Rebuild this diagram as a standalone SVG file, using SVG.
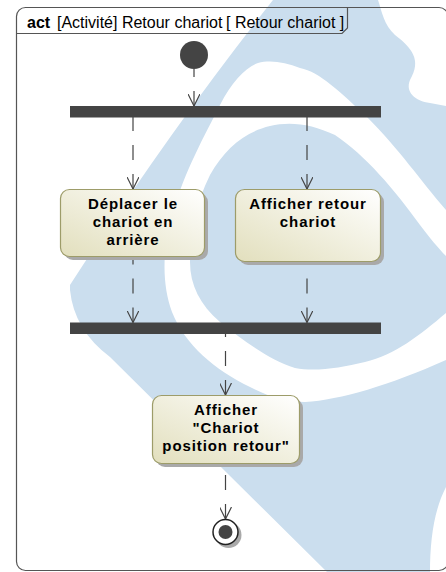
<svg xmlns="http://www.w3.org/2000/svg" width="446" height="572" viewBox="0 0 446 572">
  <defs>
    <linearGradient id="boxGrad" x1="0" y1="1" x2="1" y2="0">
      <stop offset="0" stop-color="#e2dfbd"/>
      <stop offset="1" stop-color="#ffffff"/>
    </linearGradient>
    <marker id="arr" viewBox="0 0 12 12" refX="12" refY="6" markerWidth="12" markerHeight="12" orient="auto-start-reverse" markerUnits="userSpaceOnUse">
      <path d="M0,0 L12,6 L0,12" fill="none" stroke="#444" stroke-width="1.2"/>
    </marker>
    <style>
      .wm { fill: #cbdeee; }
      .wh { fill: #ffffff; }
      .frame { fill: none; stroke: #555; stroke-width: 1.2; }
      .bar { fill: #444; }
      .box { fill: url(#boxGrad); stroke: #9d9c69; stroke-width: 1.2; }
      .shadow { fill: #a9a9a9; }
      .lbl { font-family: "Liberation Sans", Arial, sans-serif; font-size: 15px; font-weight: bold; fill: #000; letter-spacing: 0.9px; text-anchor: middle; }
      .hdr { font-family: "Liberation Sans", Arial, sans-serif; font-size: 16px; fill: #000; }
      .edge { fill: none; stroke: #444; stroke-width: 1.2; stroke-dasharray: 15 14; marker-start: url(#arr); }
    </style>
  </defs>
  <rect width="446" height="572" fill="#ffffff"/>
  <g id="watermark">
    <path class="wm" d="M273,0 L446,0 L446,487 C434,510 430,540 430,572 L327,572 L110,357 Q74,330 70,290 L70,285 Q170,130 273,0 Z"/>
    <path class="wh" d="M378,0 C382,12 384,25 395,35 C412,48 422,60 410,80 C405,92 415,101 430,103 L446,106 L446,0 Z"/>
    <path class="wh" d="M446,210 C420,180 400,150 367,117 C340,92 320,72 300,68 C285,62 270,60 258,63 C245,68 232,82 220,105 C205,135 185,170 172,215 C162,250 162,285 172,312 C185,345 215,370 250,387 C270,397 285,402 305,402 C340,400 390,385 446,360 L446,313 C420,335 395,355 365,362 C340,368 315,372 295,368 C270,360 245,342 220,322 C200,305 190,285 190,262 C190,235 195,205 210,175 C225,148 245,132 270,126 C290,121 312,124 335,135 C365,155 395,190 420,225 C430,238 438,248 446,256 Z"/>
  </g>
  <g id="frame">
    <rect class="frame" x="16.5" y="7.5" width="431.5" height="563" rx="9"/>
    <path class="frame" d="M16.5,33.5 H342 L347.5,28 V7.5"/>
    <text class="hdr" x="27" y="28"><tspan font-weight="bold">act</tspan><tspan x="57">[Activité] Retour chariot</tspan><tspan x="226">[ Retour chariot ]</tspan></text>
  </g>
  <g id="connectors">
    <path class="edge" d="M194,106 L194,69"/>
    <path class="edge" d="M133,189 L133,117"/>
    <path class="edge" d="M307,189 L307,117"/>
    <path class="edge" d="M133,322.5 L133,256"/>
    <path class="edge" d="M307,322.5 L307,261"/>
    <path class="edge" d="M225.5,395 L225.5,334"/>
    <path class="edge" d="M225.5,519 L225.5,463"/>
  </g>
  <g id="initial">
    <circle cx="194" cy="55" r="14" fill="#444"/>
  </g>
  <g id="fork">
    <rect class="bar" x="70" y="106" width="311" height="11.5"/>
  </g>
  <g id="deplacer">
    <rect class="shadow" x="64" y="193" width="144" height="67" rx="9"/>
    <rect class="box" x="60.5" y="189.5" width="144" height="67" rx="9"/>
    <text class="lbl" x="133" y="209">Déplacer le</text>
    <text class="lbl" x="133" y="227">chariot en</text>
    <text class="lbl" x="133" y="245">arrière</text>
  </g>
  <g id="afficher-retour">
    <rect class="shadow" x="239" y="193" width="145" height="72" rx="9"/>
    <rect class="box" x="235.5" y="189.5" width="145" height="72" rx="9"/>
    <text class="lbl" x="308" y="209">Afficher retour</text>
    <text class="lbl" x="308" y="227">chariot</text>
  </g>
  <g id="join">
    <rect class="bar" x="70" y="322.5" width="311" height="11.5"/>
  </g>
  <g id="afficher-position">
    <rect class="shadow" x="156" y="399" width="147" height="68" rx="9"/>
    <rect class="box" x="152.5" y="395.5" width="147" height="68" rx="9"/>
    <text class="lbl" x="226" y="415">Afficher</text>
    <text class="lbl" x="226" y="433">"Chariot</text>
    <text class="lbl" x="226" y="451">position retour"</text>
  </g>
  <g id="final">
    <circle cx="228.5" cy="535" r="13" fill="#a9a9a9"/>
    <circle cx="225.5" cy="532" r="12.5" fill="#fff" stroke="#222" stroke-width="1.5"/>
    <circle cx="225.5" cy="532" r="7" fill="#444"/>
  </g>
</svg>
